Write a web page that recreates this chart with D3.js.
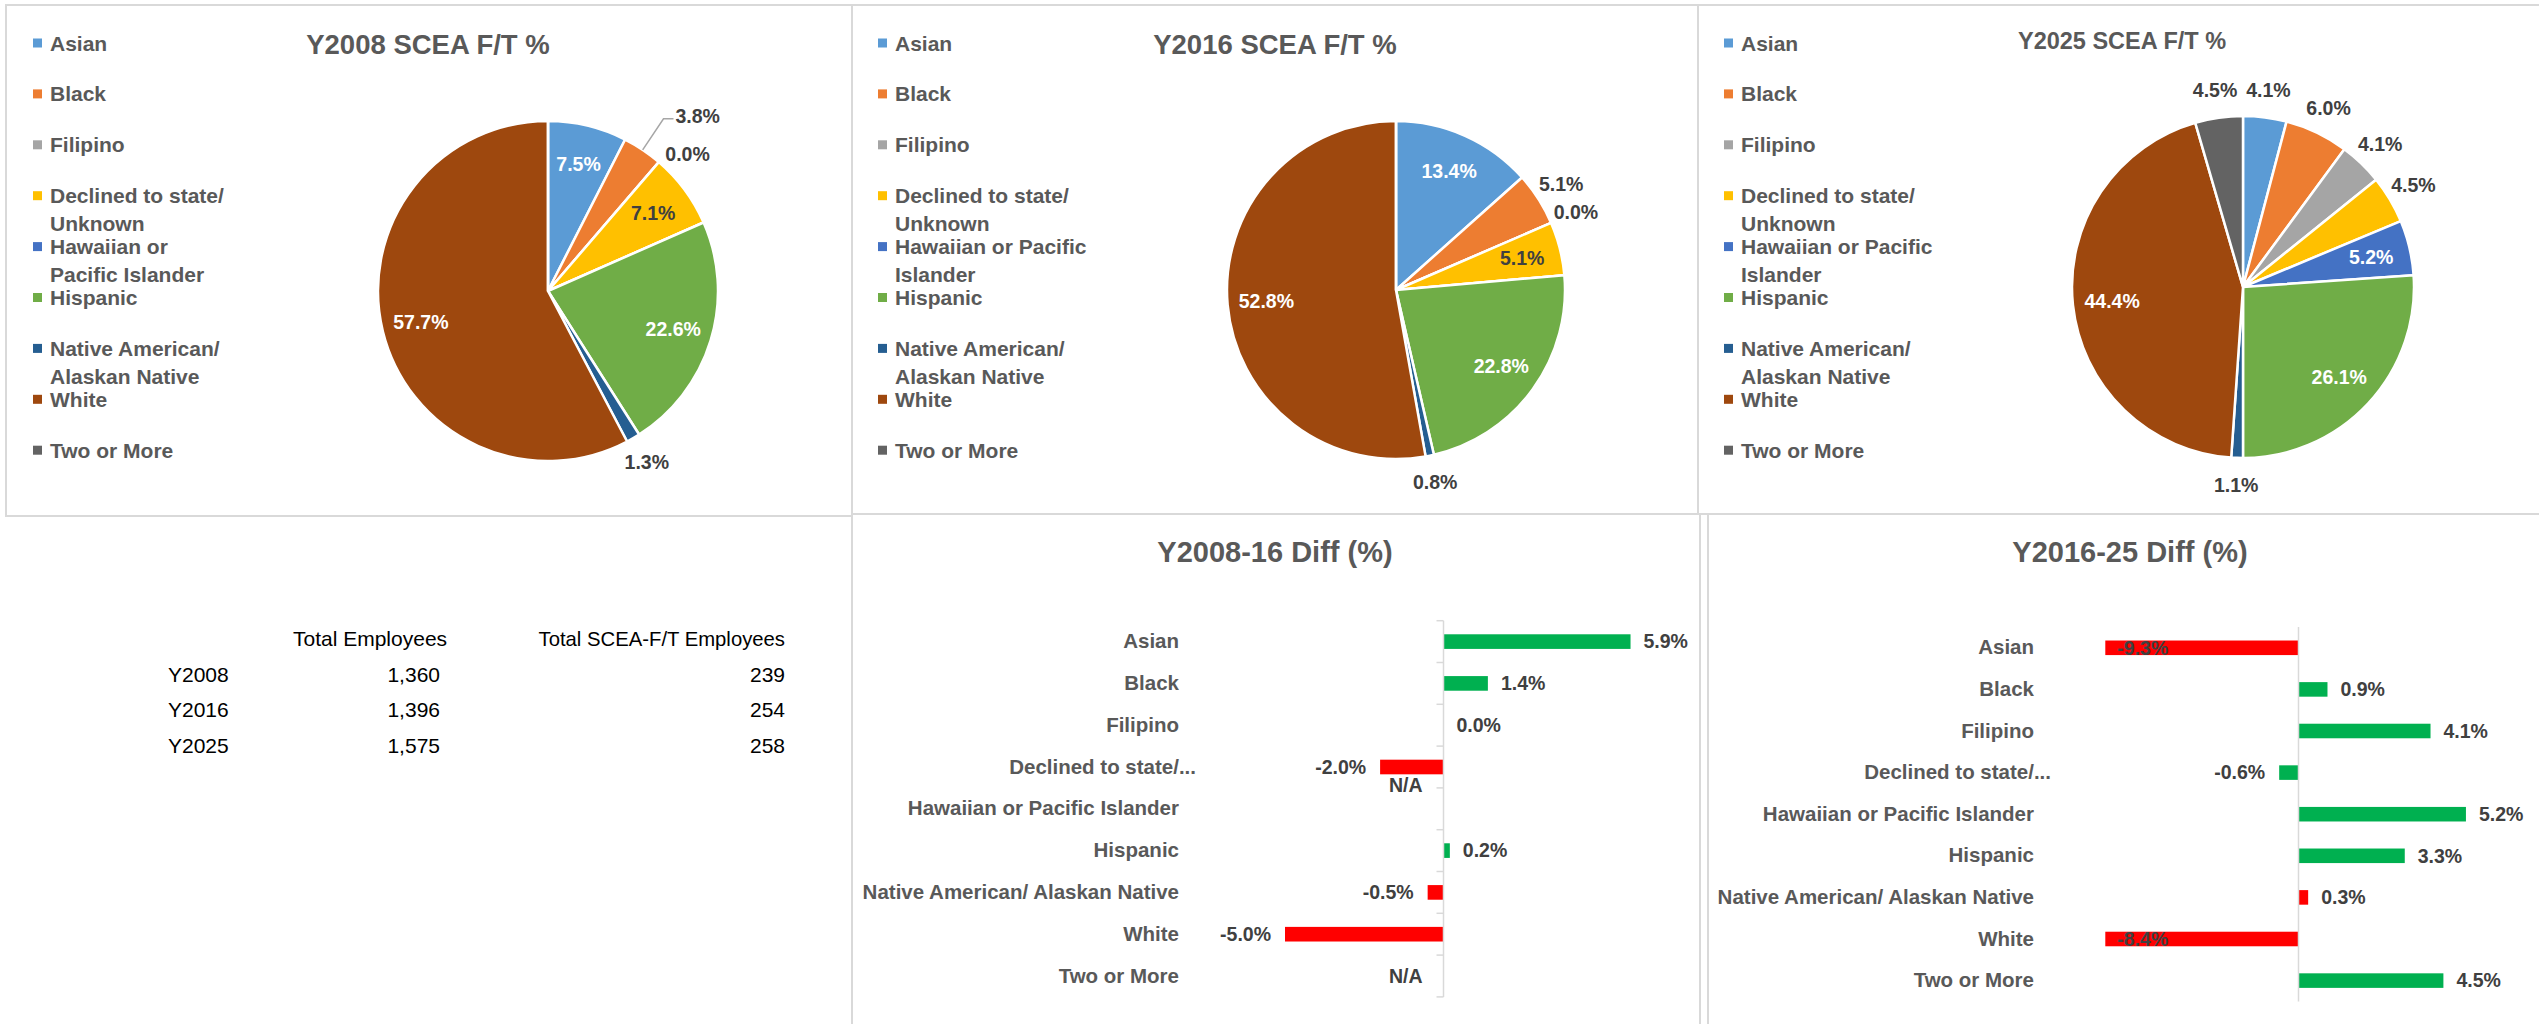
<!DOCTYPE html>
<html>
<head>
<meta charset="utf-8">
<script src="https://cdn.jsdelivr.net/npm/d3@7"></script>
<style>
  body { margin: 0; background: #fff; }
  svg { display: block; }
</style>
</head>
<body>
<div id="chart"></div>
<script>
var FONT = '"Liberation Sans", Arial, sans-serif';

// ---- data ----
var categories = ["Asian", "Black", "Filipino", "Declined to state/ Unknown", "Hawaiian or Pacific Islander",
  "Hispanic", "Native American/ Alaskan Native", "White", "Two or More"];
var barLabels = ["Asian", "Black", "Filipino", "Declined to state/...", "Hawaiian or Pacific Islander",
  "Hispanic", "Native American/ Alaskan Native", "White", "Two or More"];
var legendLines2008 = [["Asian"], ["Black"], ["Filipino"], ["Declined to state/", "Unknown"],
  ["Hawaiian or", "Pacific Islander"], ["Hispanic"], ["Native American/", "Alaskan Native"], ["White"], ["Two or More"]];
var legendLines = [["Asian"], ["Black"], ["Filipino"], ["Declined to state/", "Unknown"],
  ["Hawaiian or Pacific", "Islander"], ["Hispanic"], ["Native American/", "Alaskan Native"], ["White"], ["Two or More"]];

// null = N/A
var pct2008 = [7.5, 3.8, 0.0, 7.1, null, 22.6, 1.3, 57.7, null];
var pct2016 = [13.4, 5.1, 0.0, 5.1, null, 22.8, 0.8, 52.8, null];
var pct2025 = [4.1, 6.0, 4.1, 4.5, 5.2, 26.1, 1.1, 44.4, 4.5];

var diff0816 = [5.9, 1.4, 0.0, -2.0, null, 0.2, -0.5, -5.0, null];
var diff1625 = [-9.3, 0.9, 4.1, -0.6, 5.2, 3.3, 0.3, -8.4, 4.5];

var years = ["Y2008", "Y2016", "Y2025"];
var tableHeaders = ["Total Employees", "Total SCEA-F/T Employees"];
var totalEmployees = [1360, 1396, 1575];
var sceaEmployees = [239, 254, 258];

// ---- styles ----
var colors = ["#5b9bd5", "#ed7d31", "#a5a5a5", "#ffc000", "#4472c4", "#70ad47", "#255e91", "#9e480e", "#636363"];
var GREEN = "#00b050", RED = "#ff0000";
var barColors0816 = [GREEN, GREEN, GREEN, RED, GREEN, GREEN, RED, RED, GREEN];
var barColors1625 = [RED, GREEN, GREEN, GREEN, GREEN, GREEN, RED, RED, GREEN];

var width = 2539, height = 1024;
var svg = d3.select("#chart").append("svg")
  .attr("width", width)
  .attr("height", height)
  .attr("viewBox", `0 0 ${width} ${height}`)
  .style("font-family", FONT);

svg.append("rect").attr("width", width).attr("height", height).attr("fill", "#fff");

// panel frames
var frames = [[6, 5, 846, 511], [852, 5, 846, 509], [1698, 5, 860, 509], [852, 514, 848, 530], [1708, 514, 850, 530]];
svg.selectAll(".frame")
  .data(frames)
  .join("rect")
  .attr("class", "frame")
  .attr("x", d => d[0]).attr("y", d => d[1])
  .attr("width", d => d[2]).attr("height", d => d[3])
  .attr("fill", "none")
  .attr("stroke", "#d9d9d9")
  .attr("stroke-width", 2);

// plain hyphen for negatives, like the spreadsheet
var fmtPct = d => d.toFixed(1) + "%";

// ---- pies ----
var pies = [
  { title: "Y2008 SCEA F/T %", values: pct2008, legend: legendLines2008, cx: 548, cy: 291, r: 170,
    titleX: 428, titleY: 53.5, titleSize: 27.5, legendX: 33, outside: [2, 6], leader: [1], nudge: { 2: [11, 13] } },
  { title: "Y2016 SCEA F/T %", values: pct2016, legend: legendLines, cx: 1396, cy: 290, r: 169,
    titleX: 1275, titleY: 53.5, titleSize: 27.5, legendX: 878, outside: [1, 2, 6], leader: [], nudge: {} },
  { title: "Y2025 SCEA F/T %", values: pct2025, legend: legendLines, cx: 2243, cy: 287, r: 171,
    titleX: 2122, titleY: 48.5, titleSize: 23.5, legendX: 1724, outside: [0, 1, 2, 3, 6, 8], leader: [], nudge: {} }
];

function drawPie(p) {
  var g = svg.append("g");

  g.append("text")
    .attr("x", p.titleX).attr("y", p.titleY)
    .attr("text-anchor", "middle")
    .attr("font-size", p.titleSize)
    .attr("font-weight", "bold")
    .attr("fill", "#595959")
    .text(p.title);

  // legend
  var leg = g.selectAll(".leg")
    .data(p.legend)
    .join("g")
    .attr("class", "leg")
    .attr("transform", (d, i) => `translate(${p.legendX},${43 + i * 50.9})`);
  leg.append("rect")
    .attr("x", 0).attr("y", -4.5)
    .attr("width", 9).attr("height", 9)
    .attr("fill", (d, i) => colors[i]);
  leg.append("text")
    .attr("y", 7.5)
    .attr("font-size", 21)
    .attr("font-weight", "bold")
    .attr("fill", "#595959")
    .selectAll("tspan")
    .data(d => d)
    .join("tspan")
    .attr("x", 17)
    .attr("dy", (d, j) => j ? 28 : 0)
    .text(d => d);

  var data = p.values.map((v, i) => ({ v: v, i: i }));
  var arcs = d3.pie().sort(null).value(d => d.v || 0)(data);
  var arc = d3.arc().innerRadius(0).outerRadius(p.r);

  var pg = g.append("g").attr("transform", `translate(${p.cx},${p.cy})`);
  pg.selectAll("path")
    .data(arcs)
    .join("path")
    .attr("d", arc)
    .attr("fill", d => colors[d.data.i])
    .attr("stroke", "#fff")
    .attr("stroke-width", 2.5)
    .attr("stroke-linejoin", "round");

  arcs.filter(d => d.data.v !== null).forEach(d => {
    var a = (d.startAngle + d.endAngle) / 2;
    var sx = Math.sin(a), sy = -Math.cos(a);
    var nd = p.nudge[d.data.i] || [0, 0];
    var t;
    if (p.leader.includes(d.data.i)) {
      var kx = sx * p.r * 1.22, ky = sy * p.r * 1.22;
      pg.append("path")
        .attr("d", `M${sx * p.r},${sy * p.r}L${kx},${ky}h10`)
        .attr("fill", "none")
        .attr("stroke", "#a6a6a6")
        .attr("stroke-width", 1.5);
      t = pg.append("text").attr("x", kx + 12).attr("y", ky - 3).attr("text-anchor", "start").attr("fill", "#404040");
    } else if (p.outside.includes(d.data.i)) {
      t = pg.append("text").attr("x", sx * p.r * 1.16 + nd[0]).attr("y", sy * p.r * 1.16 + nd[1])
        .attr("text-anchor", "middle").attr("fill", "#404040");
    } else {
      t = pg.append("text").attr("x", sx * p.r * 0.77).attr("y", sy * p.r * 0.77)
        .attr("text-anchor", "middle").attr("fill", d.data.i === 3 ? "#404040" : "#fff");
    }
    t.attr("dy", "0.35em")
      .attr("font-size", 19.5)
      .attr("font-weight", "bold")
      .text(fmtPct(d.data.v));
  });
}

pies.forEach(drawPie);

// ---- diff bar charts ----
var diffs = [
  { title: "Y2008-16 Diff (%)", values: diff0816, colors: barColors0816, axisX: 1443.5, k: 31.7,
    top: 620.7, band: 41.8, labelX: 1179, titleX: 1275, ticks: true, naShift: { 4: -24 } },
  { title: "Y2016-25 Diff (%)", values: diff1625, colors: barColors1625, axisX: 2298.5, k: 32.2,
    top: 627, band: 41.6, labelX: 2034, titleX: 2130, ticks: false, naShift: {} }
];

function drawDiff(c) {
  var g = svg.append("g");

  g.append("text")
    .attr("x", c.titleX).attr("y", 562)
    .attr("text-anchor", "middle")
    .attr("font-size", 29)
    .attr("font-weight", "bold")
    .attr("fill", "#595959")
    .text(c.title);

  var x = d3.scaleLinear()
    .domain([-6, 6])
    .range([c.axisX - 6 * c.k, c.axisX + 6 * c.k])
    .clamp(true);
  var y = d3.scaleBand()
    .domain(barLabels)
    .range([c.top, c.top + 9 * c.band])
    .paddingInner(0.65)
    .paddingOuter(0.325);

  // category labels
  var ax = g.append("g")
    .attr("transform", `translate(${c.labelX},0)`)
    .call(d3.axisLeft(y).tickSize(0).tickPadding(0));
  ax.select(".domain").remove();
  ax.attr("font-family", FONT).attr("font-size", 20.5).style("color", "#595959");
  ax.selectAll("text")
    .attr("font-weight", "bold")
    .attr("x", d => d.endsWith("...") ? 17 : 0);

  var rows = c.values.map((v, i) => ({ v: v, i: i }));

  g.selectAll(".bar")
    .data(rows.filter(d => d.v !== null))
    .join("rect")
    .attr("class", "bar")
    .attr("x", d => x(Math.min(0, d.v)))
    .attr("width", d => Math.abs(x(d.v) - x(0)))
    .attr("y", d => y(barLabels[d.i]))
    .attr("height", y.bandwidth())
    .attr("fill", d => c.colors[d.i]);

  // vertical axis line
  g.append("line")
    .attr("x1", x(0)).attr("x2", x(0))
    .attr("y1", c.top).attr("y2", c.top + 9 * c.band)
    .attr("stroke", "#d9d9d9")
    .attr("stroke-width", 1.5);
  if (c.ticks) {
    g.selectAll(".tick-mark")
      .data(d3.range(10))
      .join("line")
      .attr("class", "tick-mark")
      .attr("x1", x(0) - 7).attr("x2", x(0))
      .attr("y1", i => c.top + i * c.band)
      .attr("y2", i => c.top + i * c.band)
      .attr("stroke", "#d9d9d9")
      .attr("stroke-width", 1.5);
  }

  // value labels
  g.selectAll(".val")
    .data(rows)
    .join("text")
    .attr("class", "val")
    .attr("font-size", 19.5)
    .attr("font-weight", "bold")
    .attr("fill", "#404040")
    .attr("dy", "0.35em")
    .attr("y", d => y(barLabels[d.i]) + y.bandwidth() / 2 + (d.v === null ? (c.naShift[d.i] || 0) : 0))
    .each(function (d) {
      var t = d3.select(this);
      if (d.v === null) {
        t.attr("x", x(0) - 21).attr("text-anchor", "end").text("N/A");
      } else if (d.v < x.domain()[0]) {
        t.attr("x", x(d.v) + 12).attr("text-anchor", "start").text(fmtPct(d.v));
      } else if (d.v < 0) {
        t.attr("x", x(d.v) - 14).attr("text-anchor", "end").text(fmtPct(d.v));
      } else {
        t.attr("x", x(d.v) + 13).attr("text-anchor", "start").text(fmtPct(d.v));
      }
    });
}

diffs.forEach(drawDiff);

// ---- totals table ----
var tg = svg.append("g").attr("font-size", 21).attr("fill", "#000");
tg.append("text").attr("x", 293).attr("y", 646).text(tableHeaders[0]);
tg.append("text").attr("x", 785).attr("y", 646).attr("text-anchor", "end").attr("font-size", 20.3).text(tableHeaders[1]);

var tRows = tg.selectAll(".trow")
  .data(years)
  .join("g")
  .attr("class", "trow")
  .attr("transform", (d, i) => `translate(0,${681.5 + i * 35.5})`);
tRows.append("text").attr("x", 168).text(d => d);
tRows.append("text").attr("x", 440).attr("text-anchor", "end").text((d, i) => d3.format(",")(totalEmployees[i]));
tRows.append("text").attr("x", 785).attr("text-anchor", "end").text((d, i) => sceaEmployees[i]);
</script>
</body>
</html>
